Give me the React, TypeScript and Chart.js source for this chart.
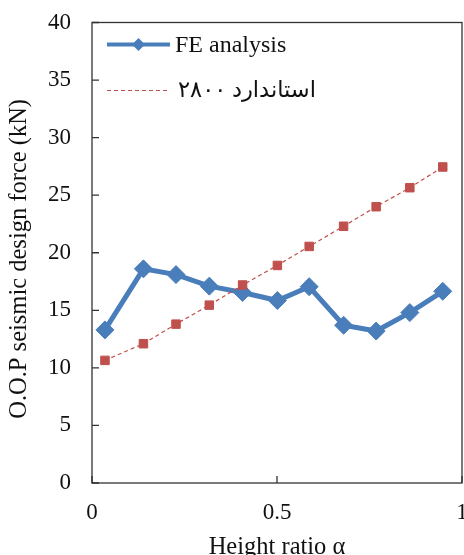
import React, { useEffect, useRef } from "react";
import { Chart, registerables } from "chart.js";

Chart.register(...registerables);

const heightRatio = [0.035, 0.139, 0.227, 0.317, 0.407, 0.501, 0.587, 0.68, 0.768, 0.859, 0.948];
const feAnalysis = [13.3, 18.6, 18.1, 17.1, 16.55, 15.85, 17.05, 13.7, 13.2, 14.8, 16.65];
const standard2800 = [10.65, 12.1, 13.8, 15.45, 17.2, 18.9, 20.55, 22.3, 24.0, 25.65, 27.45];
const yTicks = [0, 5, 10, 15, 20, 25, 30, 35, 40];
const xTicks = [0, 0.5, 1];
const seriesLabels = ["FE analysis", "استاندارد ۲۸۰۰"];
const xTitle = "Height ratio α";
const yTitle = "O.O.P seismic design force (kN)  ";

const BLUE = "#4a7ebb";
const RED = "#c0504d";
const SERIF = "'Liberation Serif', 'Times New Roman', serif";
const PERSIAN = "'Liberation Serif', 'DejaVu Sans', serif";

const framePlugin = {
  id: "frameAndLegend",
  beforeDatasetsDraw(chart: any) {
    const { ctx, chartArea: a, scales } = chart;
    ctx.save();
    ctx.strokeStyle = "#333333";
    ctx.lineWidth = 1.3;
    ctx.strokeRect(a.left, a.top, a.right - a.left, a.bottom - a.top);
    ctx.beginPath();
    for (const v of yTicks) {
      const y = scales.y.getPixelForValue(v);
      ctx.moveTo(a.left, y);
      ctx.lineTo(a.left + 7, y);
    }
    for (const v of xTicks) {
      const x = scales.x.getPixelForValue(v);
      ctx.moveTo(x, a.bottom);
      ctx.lineTo(x, a.bottom - 7);
    }
    ctx.stroke();
    ctx.restore();
  },
  afterDraw(chart: any) {
    const { ctx, chartArea: a } = chart;
    const x0 = a.left + 15;
    const x1 = a.left + 78;
    const y1 = a.top + 22;
    const y2 = a.top + 68;
    ctx.save();
    // FE analysis
    ctx.strokeStyle = BLUE;
    ctx.lineWidth = 4;
    ctx.beginPath();
    ctx.moveTo(x0, y1);
    ctx.lineTo(x1, y1);
    ctx.stroke();
    const cx = (x0 + x1) / 2;
    ctx.fillStyle = BLUE;
    ctx.beginPath();
    ctx.moveTo(cx - 6.5, y1);
    ctx.lineTo(cx, y1 - 6.5);
    ctx.lineTo(cx + 6.5, y1);
    ctx.lineTo(cx, y1 + 6.5);
    ctx.closePath();
    ctx.fill();
    // Standard 2800
    ctx.strokeStyle = RED;
    ctx.lineWidth = 1.2;
    ctx.setLineDash([4, 3]);
    ctx.beginPath();
    ctx.moveTo(x0, y2);
    ctx.lineTo(x1, y2);
    ctx.stroke();
    ctx.setLineDash([]);
    ctx.fillStyle = "#111";
    ctx.textAlign = "left";
    ctx.textBaseline = "middle";
    ctx.font = `24px ${SERIF}`;
    ctx.fillText(seriesLabels[0], x1 + 5, y1 + 1);
    ctx.font = `22.5px ${PERSIAN}`;
    ctx.fillText(seriesLabels[1], x1 + 8, y2 + 1);
    ctx.restore();
  },
};

export default function App() {
  const ref = useRef<HTMLCanvasElement | null>(null);

  useEffect(() => {
    if (!ref.current) return;
    const chart = new Chart(ref.current, {
      type: "line",
      data: {
        datasets: [
          {
            label: seriesLabels[1],
            data: heightRatio.map((x, i) => ({ x, y: standard2800[i] })),
            borderColor: RED,
            backgroundColor: RED,
            borderWidth: 1.2,
            borderDash: [4, 3],
            pointStyle: "rect",
            pointRadius: 6,
            pointBorderWidth: 1,
            pointBorderColor: RED,
            pointBackgroundColor: RED,
            order: 0,
          },
          {
            label: seriesLabels[0],
            data: heightRatio.map((x, i) => ({ x, y: feAnalysis[i] })),
            borderColor: BLUE,
            backgroundColor: BLUE,
            borderWidth: 5,
            pointStyle: "rectRot",
            pointRadius: 9,
            pointBorderWidth: 1,
            pointBorderColor: BLUE,
            pointBackgroundColor: BLUE,
            order: 1,
          },
        ],
      },
      options: {
        responsive: false,
        animation: false,
        devicePixelRatio: 1,
        layout: { padding: { left: 0, top: 22.5, right: 38, bottom: 0 } },
        plugins: { legend: { display: false }, tooltip: { enabled: false } },
        scales: {
          x: {
            type: "linear",
            min: 0,
            max: 1,
            afterFit: (s: any) => {
              s.height = 97;
              s.paddingLeft = 0;
              s.paddingRight = 0;
            },
            afterBuildTicks: (s: any) => {
              s.ticks = xTicks.map((v) => ({ value: v }));
            },
            grid: { display: false, drawTicks: false },
            border: { display: false },
            ticks: {
              padding: 16,
              color: "#111",
              font: { family: SERIF, size: 23 },
              callback: (v: any) => String(v),
              maxRotation: 0,
            },
            title: {
              display: true,
              text: xTitle,
              color: "#111",
              font: { family: SERIF, size: 24.5 },
              padding: { top: 0, bottom: 18 },
            },
          },
          y: {
            type: "linear",
            min: 0,
            max: 40,
            afterFit: (s: any) => {
              s.width = 92;
              s.paddingTop = 0;
              s.paddingBottom = 0;
            },
            afterBuildTicks: (s: any) => {
              s.ticks = yTicks.map((v) => ({ value: v }));
            },
            grid: { display: false, drawTicks: false },
            border: { display: false },
            ticks: {
              padding: 21,
              color: "#111",
              font: { family: SERIF, size: 23 },
              callback: (v: any) => String(v),
            },
            title: {
              display: true,
              text: yTitle,
              color: "#111",
              font: { family: SERIF, size: 24.5 },
              padding: { top: 5, bottom: 0 },
            },
          },
        },
      },
      plugins: [framePlugin],
    });
    return () => chart.destroy();
  }, []);

  return (
    <div
      style={{
        position: "fixed",
        left: 0,
        top: 0,
        width: 464,
        height: 555,
        overflow: "hidden",
        background: "#fff",
      }}
    >
      <canvas ref={ref} width={500} height={580} style={{ display: "block" }} />
    </div>
  );
}
